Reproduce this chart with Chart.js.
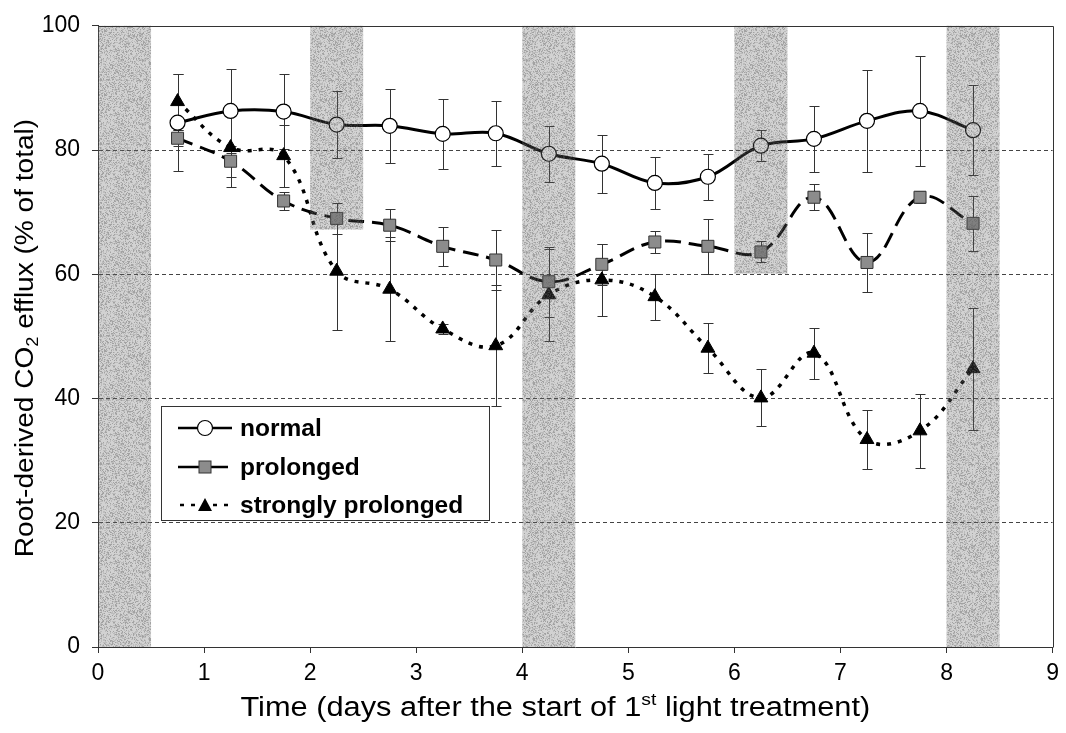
<!DOCTYPE html>
<html><head><meta charset="utf-8">
<script src="https://cdn.jsdelivr.net/npm/chart.js@4.4.1/dist/chart.umd.min.js"></script>
<style>html,body{margin:0;padding:0;background:#fff;}#wrap{width:1066px;height:733px;}</style>
</head><body><div id="wrap"><canvas id="c" width="1066" height="733"></canvas></div>
<script>
// ---- data ----
const xDays = [0.75,1.25,1.75,2.25,2.75,3.25,3.75,4.25,4.75,5.25,5.75,6.25,6.75,7.25,7.75,8.25];
const normalMean = [84.4,86.3,86.2,84.1,83.9,82.6,82.7,79.4,77.8,74.7,75.7,80.7,81.8,84.7,86.3,83.2];
const normalErr  = [7.8,6.7,6.0,5.4,6.0,5.6,5.2,4.5,4.7,4.2,3.7,2.5,5.3,8.2,8.9,7.2];
const prolongedMean = [81.9,78.2,71.8,69.0,67.9,64.5,62.3,58.8,61.6,65.2,64.5,63.6,72.4,61.9,72.4,68.2];
const prolongedErr  = [1.3,2.5,1.5,2.5,2.6,3.1,4.9,5.6,3.3,1.8,4.4,1.7,2.1,4.7,1.0,4.4];
const strongMean = [87.8,80.4,79.1,60.5,57.6,51.2,48.5,56.7,59.1,56.4,48.1,40.1,47.3,33.4,34.8,44.8];
const strongErr  = [4.5,6.4,5.0,9.4,8.4,0.8,9.7,7.4,5.8,3.7,4.0,4.6,4.1,4.8,6.0,9.8];
const seriesNames = ['normal','prolonged','strongly prolonged'];
const bandStart  = [0,2,4,6,8];
const bandEnd    = [0.5,2.5,4.5,6.5,8.5];
const bandTop    = [100,100,100,100,100];
const bandBottom = [0,67.2,0,60.1,0];
const xTicks = [0,1,2,3,4,5,6,7,8,9];
const yTicks = [0,20,40,60,80,100];
const xTitleMain = 'Time (days after the start of 1';
const xTitleSup = 'st';
const xTitleEnd = ' light treatment)';
const yTitleMain = 'Root-derived CO';
const yTitleSub = '2';
const yTitleEnd = ' efflux (% of total)';

const FONT = '"Liberation Sans", Arial, sans-serif';
const toPts = (m) => m.map((v,i)=>({x:xDays[i], y:v}));
const errSets = [[normalMean,normalErr],[prolongedMean,prolongedErr],[strongMean,strongErr]];

// stipple pattern for shaded bands
function makePattern(ctx){
  const p = document.createElement('canvas'); p.width = 64; p.height = 64;
  const pc = p.getContext('2d'); const img = pc.createImageData(64,64);
  for(let yy=0; yy<64; yy++) for(let xx=0; xx<64; xx++){
    let h = (xx*374761393 + yy*668265263) >>> 0; h = ((h ^ (h>>>13)) * 1274126177) >>> 0; h = (h ^ (h>>>16)) >>> 0;
    const v = h % 100;
    const k = (yy*64+xx)*4;
    const a = v < 50 ? 0.28 : (v < 80 ? 0.42 : 0.58);
    img.data[k]=95; img.data[k+1]=95; img.data[k+2]=95; img.data[k+3]=Math.round(a*255);
  }
  pc.putImageData(img,0,0);
  return ctx.createPattern(p,'repeat');
}

const errorBars = {
  id:'errorBars',
  beforeDatasetsDraw(chart){
    const {ctx, scales:{x,y}} = chart;
    ctx.save(); ctx.strokeStyle = '#333'; ctx.lineWidth = 1;
    errSets.forEach(([mean,err])=>{
      mean.forEach((m,i)=>{
        const px = Math.round(x.getPixelForValue(xDays[i]))+0.5;
        const t = Math.round(y.getPixelForValue(m+err[i]))+0.5;
        const b = Math.round(y.getPixelForValue(m-err[i]))+0.5;
        ctx.beginPath();
        ctx.moveTo(px,t); ctx.lineTo(px,b);
        ctx.moveTo(px-5,t); ctx.lineTo(px+5,t);
        ctx.moveTo(px-5,b); ctx.lineTo(px+5,b);
        ctx.stroke();
      });
    });
    ctx.restore();
  }
};

const bands = {
  id:'bands',
  afterDatasetsDraw(chart){
    const {ctx, scales:{x,y}} = chart;
    ctx.save();
    ctx.fillStyle = makePattern(ctx);
    bandStart.forEach((s,i)=>{
      const x0 = x.getPixelForValue(s), x1 = x.getPixelForValue(bandEnd[i]);
      const y0 = y.getPixelForValue(bandTop[i]), y1 = y.getPixelForValue(bandBottom[i]);
      ctx.fillRect(x0, y0, x1-x0, y1-y0);
    });
    const a = chart.chartArea;
    ctx.strokeStyle = '#333'; ctx.lineWidth = 1;
    ctx.beginPath();
    ctx.moveTo(Math.round(a.left)+0.5, Math.round(a.top)+0.5);
    ctx.lineTo(Math.round(a.right)+0.5, Math.round(a.top)+0.5);
    ctx.lineTo(Math.round(a.right)+0.5, Math.round(a.bottom)+0.5);
    ctx.stroke();
    ctx.restore();
  }
};

function drawMarker(ctx, style, cx, cy){
  ctx.save();
  if(style==='circle'){
    ctx.beginPath(); ctx.arc(cx,cy,7.5,0,Math.PI*2); ctx.fillStyle='#fff'; ctx.fill();
    ctx.lineWidth=1.2; ctx.strokeStyle='#000'; ctx.stroke();
  } else if(style==='rect'){
    ctx.fillStyle='#8c8c8c'; ctx.fillRect(cx-6,cy-6,12,12);
    ctx.lineWidth=1; ctx.strokeStyle='#333'; ctx.strokeRect(cx-6,cy-6,12,12);
  } else {
    ctx.beginPath(); ctx.moveTo(cx,cy-7); ctx.lineTo(cx+7,cy+6); ctx.lineTo(cx-7,cy+6); ctx.closePath();
    ctx.fillStyle='#000'; ctx.fill();
  }
  ctx.restore();
}

const overlay = {
  id:'overlay',
  afterDraw(chart){
    const {ctx} = chart; const a = chart.chartArea;
    ctx.save();
    // legend
    const L = 161.5, T = 406.5, R = 489.5, B = 520.5;
    ctx.fillStyle='#fff'; ctx.fillRect(L,T,R-L,B-T);
    ctx.strokeStyle='#333'; ctx.lineWidth=1; ctx.strokeRect(L,T,R-L,B-T);
    const rows = [428,467,505];
    const styles = ['circle','rect','triangle'];
    const dashes = [[],[22,6],[4,7]];
    rows.forEach((ry,i)=>{
      ctx.save();
      ctx.strokeStyle='#000'; ctx.lineWidth=2.5; ctx.setLineDash(dashes[i]);
      if(i===2){ ctx.lineDashOffset = -2; }
      ctx.beginPath(); ctx.moveTo(178,ry); ctx.lineTo(232,ry); ctx.stroke();
      ctx.restore();
      drawMarker(ctx, styles[i], 205, ry);
      ctx.fillStyle='#000'; ctx.font = 'bold 24.5px '+FONT; ctx.textBaseline='middle'; ctx.textAlign='left';
      ctx.fillText(seriesNames[i], 240, ry+1);
    });
    // x title (slightly widened to match the reference)
    ctx.fillStyle='#000'; ctx.textBaseline='alphabetic'; ctx.textAlign='left';
    const SX = 1.14;
    const bigX = '27px '+FONT, smallX = '17px '+FONT;
    ctx.font = bigX; const w1 = ctx.measureText(xTitleMain).width, w3 = ctx.measureText(xTitleEnd).width;
    ctx.font = smallX; const w2 = ctx.measureText(xTitleSup).width;
    const total = (w1+w2+w3)*SX;
    ctx.save();
    ctx.translate((a.left+a.right)/2 - 20 - total/2, 716); ctx.scale(SX,1);
    let sx = 0;
    ctx.font = bigX; ctx.fillText(xTitleMain, sx, 0); sx += w1;
    ctx.font = smallX; ctx.fillText(xTitleSup, sx, -11); sx += w2;
    ctx.font = bigX; ctx.fillText(xTitleEnd, sx, 0);
    ctx.restore();
    // y title
    const SY = 1.1;
    const bigY = '25.5px '+FONT, smallY = '16.5px '+FONT;
    ctx.save();
    ctx.translate(33, 338); ctx.rotate(-Math.PI/2);
    ctx.font = bigY; const v1 = ctx.measureText(yTitleMain).width, v3 = ctx.measureText(yTitleEnd).width;
    ctx.font = smallY; const v2 = ctx.measureText(yTitleSub).width;
    ctx.translate(-(v1+v2+v3)*SY/2, 0); ctx.scale(SY,1);
    let tx = 0;
    ctx.font = bigY; ctx.fillText(yTitleMain, tx, 0); tx += v1;
    ctx.font = smallY; ctx.fillText(yTitleSub, tx, 5); tx += v2;
    ctx.font = bigY; ctx.fillText(yTitleEnd, tx, 0);
    ctx.restore();
    ctx.restore();
  }
};

new Chart(document.getElementById('c'), {
  type:'line',
  data:{
    datasets:[
      {label:seriesNames[0], data:toPts(normalMean), borderColor:'#000', borderWidth:3, tension:0.35,
       pointStyle:'circle', pointRadius:7.5, pointBackgroundColor:'#fff', pointBorderColor:'#000', pointBorderWidth:1.2},
      {label:seriesNames[1], data:toPts(prolongedMean), borderColor:'#000', borderWidth:3, borderDash:[16,8], tension:0.4,
       pointStyle:'rect', pointRadius:8.5, pointBackgroundColor:'#8c8c8c', pointBorderColor:'#333', pointBorderWidth:1},
      {label:seriesNames[2], data:toPts(strongMean), borderColor:'#000', borderWidth:3.5, borderDash:[4,7], tension:0.4,
       pointStyle:'triangle', pointRadius:8, pointBackgroundColor:'#000', pointBorderColor:'#000', pointBorderWidth:1}
    ]
  },
  options:{
    responsive:false, animation:false, devicePixelRatio:1,
    layout:{padding:{left:0, top:22, right:9, bottom:0}},
    plugins:{legend:{display:false}, tooltip:{enabled:false}},
    scales:{
      x:{type:'linear', min:0, max:9, afterFit:(s)=>{s.height=86;},
         afterBuildTicks:(s)=>{s.ticks = xTicks.map(v=>({value:v}));},
         ticks:{font:{family:FONT,size:23}, color:'#000', padding:7, maxRotation:0, autoSkip:false},
         grid:{drawOnChartArea:false, drawTicks:true, tickLength:6, tickColor:'#333', color:'#333'},
         border:{display:true, color:'#333', width:1}},
      y:{min:0, max:100, afterFit:(s)=>{s.width=98;},
         afterBuildTicks:(s)=>{s.ticks = yTicks.map(v=>({value:v}));},
         ticks:{font:{family:FONT,size:23}, color:'#000', padding:12},
         grid:{color:(c)=> (c.tick && (c.tick.value===0 || c.tick.value===100)) ? 'rgba(0,0,0,0)' : '#444',
               tickColor:'#333', tickLength:6, tickBorderDash:[], lineWidth:1},
         border:{display:true, color:'#333', width:1, dash:[4,3]}}
    }
  },
  plugins:[errorBars, bands, overlay]
});
</script></body></html>
